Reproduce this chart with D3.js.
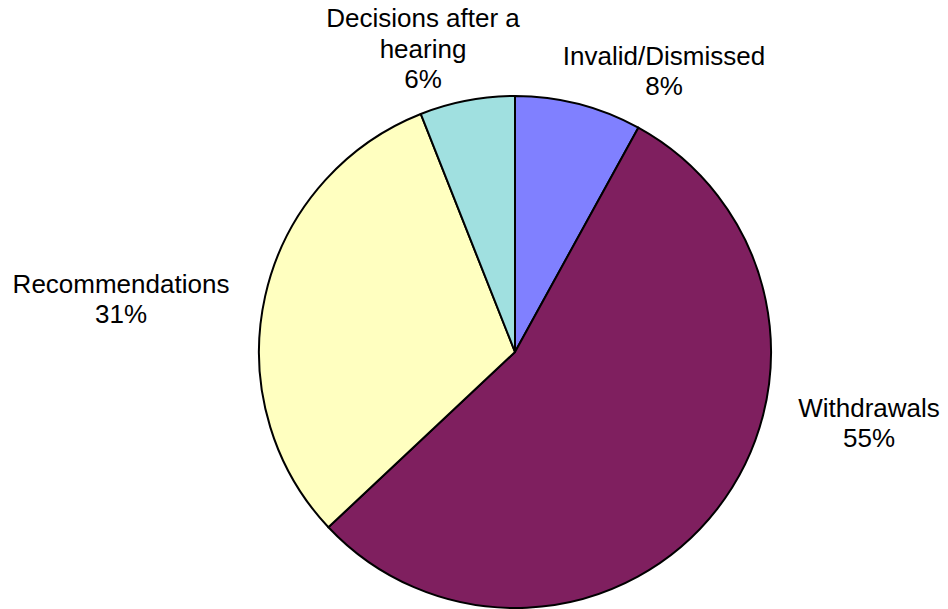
<!DOCTYPE html>
<html>
<head>
<meta charset="utf-8">
<script src="https://cdn.jsdelivr.net/npm/d3@7"></script>
<style>
  html, body { margin: 0; padding: 0; background: #fff; }
  svg { display: block; }
  text { font-family: "Liberation Sans", Arial, sans-serif; fill: #000; }
</style>
</head>
<body>
<svg id="chart" width="948" height="609"></svg>
<script>
// Case outcomes, clockwise from 12 o'clock
const categories = ["Invalid/Dismissed", "Withdrawals", "Recommendations", "Decisions after a hearing"];
const values = [8, 55, 31, 6];
const colors = ["#8080FF", "#7F1F5F", "#FFFFC0", "#A0E0E0"];
// Label text lines (category wrapped as shown)
const labelLines = [
  ["Invalid/Dismissed"],
  ["Withdrawals"],
  ["Recommendations"],
  ["Decisions after a", "hearing"]
];

const svg = d3.select("#chart");
const cx = 515, cy = 352, r = 256;

const pie = d3.pie().sort(null).value(d => d)(values);
const arc = d3.arc().innerRadius(0).outerRadius(r);

const g = svg.append("g").attr("transform", `translate(${cx},${cy})`);
g.selectAll("path")
  .data(pie)
  .join("path")
  .attr("d", arc)
  .attr("fill", (d, i) => colors[i])
  .attr("stroke", "#000")
  .attr("stroke-width", 2)
  .attr("stroke-linejoin", "round");

// Label placement: centre x and baseline of the last (percentage) line
const labelPos = [
  { x: 664, y: 95 },
  { x: 869, y: 447 },
  { x: 121, y: 323 },
  { x: 423, y: 88 }
];
const lineH = 30.5;
const fmt = d3.format(".0%");

labelLines.forEach((lines, i) => {
  const all = lines.concat([fmt(values[i] / d3.sum(values))]);
  const t = svg.append("text")
    .attr("text-anchor", "middle")
    .attr("font-size", 26);
  all.forEach((s, j) => {
    t.append("tspan")
      .attr("x", labelPos[i].x)
      .attr("y", labelPos[i].y - (all.length - 1 - j) * lineH)
      .text(s);
  });
});
</script>
</body>
</html>
